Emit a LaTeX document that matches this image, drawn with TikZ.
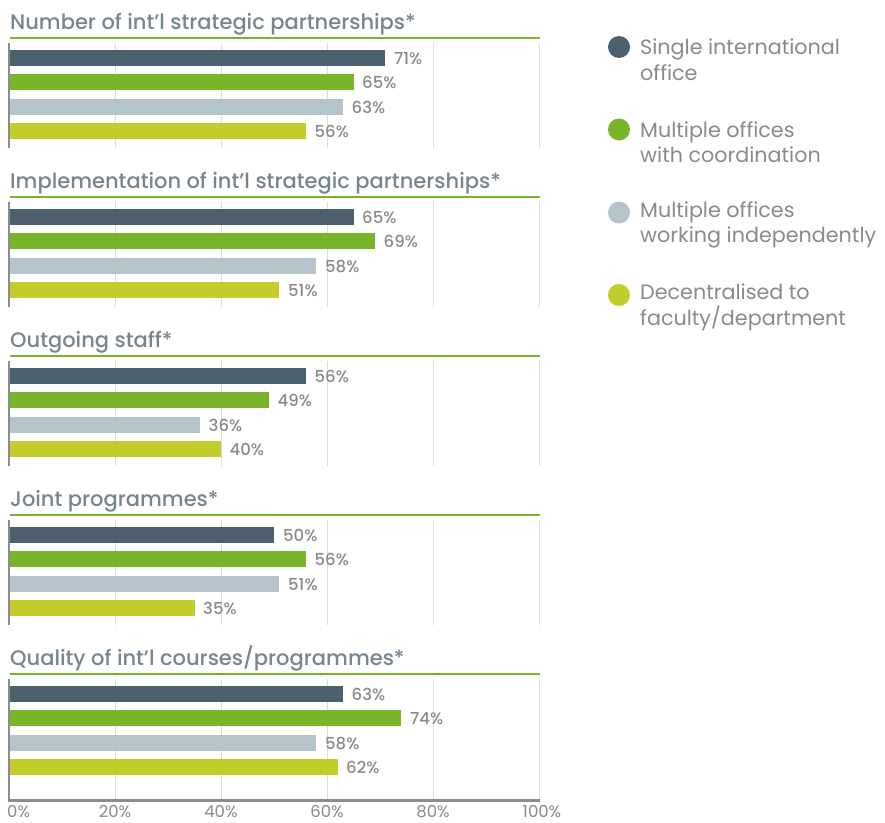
\documentclass[tikz,border=0pt]{standalone}
\usepackage{fontspec}
\setmainfont{Poppins}
\newfontfamily\mediumfont{Poppins}[UprightFont={* Medium}]
\definecolor{slate}{HTML}{4B5F6C}
\definecolor{leaf}{HTML}{78B52A}
\definecolor{mist}{HTML}{B5C4CB}
\definecolor{lime}{HTML}{C2CD2C}
\definecolor{heading}{HTML}{76858F}
\definecolor{label}{HTML}{8A8A8A}
\definecolor{grid}{HTML}{DDDDDD}
\definecolor{axis}{HTML}{8C8C8C}
\begin{document}
\begin{tikzpicture}[x=1pt,y=1pt,yscale=-1,xscale=1,
    title/.style={anchor=base west,inner sep=0,font=\mediumfont\fontsize{21}{24}\selectfont,text=heading},
    value/.style={anchor=west,inner sep=0,font=\mediumfont\fontsize{16.5}{18}\selectfont,text=label},
    tick/.style={anchor=base,inner sep=0,font=\fontsize{16.5}{18}\selectfont,text=label},
    keytext/.style={anchor=west,inner sep=0,align=left,font=\fontsize{20.7}{25.5}\selectfont,text=label},
    dot/.style={circle,inner sep=0,minimum size=22pt},
    rule/.style={leaf,line width=1.3pt},
    gridline/.style={grid,line width=0.9pt},
    axisline/.style={axis,line width=2.6pt}]
    \useasboundingbox (0,0) rectangle (885,822);
    % Panel 1
    \node[title] (t1) at (10,29.5) {Number of int’l strategic partnerships*};
    \draw[rule] (10,38) -- (540,38);
    \draw[gridline] (115,43) -- (115,148) (221,43) -- (221,148) (327,43) -- (327,148) (433,43) -- (433,148) (539,43) -- (539,148);
    \fill[slate] (9,50) rectangle (385.3,66);
    \fill[leaf] (9,74.3) rectangle (353.5,90.3);
    \fill[mist] (9,98.6) rectangle (342.9,114.6);
    \fill[lime] (9,122.9) rectangle (305.8,138.9);
    \node[value] (v11) at (394,58.5) {71\%};
    \node[value] (v12) at (362,82.8) {65\%};
    \node[value] (v13) at (351.5,107.1) {63\%};
    \node[value] (v14) at (314.5,131.4) {56\%};
    \draw[axisline] (9,43) -- (9,148);
    % Panel 2
    \node[title] (t2) at (10,188.5) {Implementation of int’l strategic partnerships*};
    \draw[rule] (10,197) -- (540,197);
    \draw[gridline] (115,202) -- (115,307) (221,202) -- (221,307) (327,202) -- (327,307) (433,202) -- (433,307) (539,202) -- (539,307);
    \fill[slate] (9,209) rectangle (353.5,225);
    \fill[leaf] (9,233.3) rectangle (374.7,249.3);
    \fill[mist] (9,257.6) rectangle (316.4,273.6);
    \fill[lime] (9,281.9) rectangle (279.3,297.9);
    \node[value] (v21) at (362,217.5) {65\%};
    \node[value] (v22) at (383.5,241.8) {69\%};
    \node[value] (v23) at (325,266.1) {58\%};
    \node[value] (v24) at (288,290.4) {51\%};
    \draw[axisline] (9,202) -- (9,307);
    % Panel 3
    \node[title] (t3) at (10,347.5) {Outgoing staff*};
    \draw[rule] (10,356) -- (540,356);
    \draw[gridline] (115,361) -- (115,466) (221,361) -- (221,466) (327,361) -- (327,466) (433,361) -- (433,466) (539,361) -- (539,466);
    \fill[slate] (9,368) rectangle (305.8,384);
    \fill[leaf] (9,392.3) rectangle (268.7,408.3);
    \fill[mist] (9,416.6) rectangle (199.8,432.6);
    \fill[lime] (9,440.9) rectangle (221,456.9);
    \node[value] (v31) at (314.5,376.5) {56\%};
    \node[value] (v32) at (277.5,400.8) {49\%};
    \node[value] (v33) at (208.5,425.1) {36\%};
    \node[value] (v34) at (229.5,449.4) {40\%};
    \draw[axisline] (9,361) -- (9,466);
    % Panel 4
    \node[title] (t4) at (10,506.5) {Joint programmes*};
    \draw[rule] (10,515) -- (540,515);
    \draw[gridline] (115,520) -- (115,625) (221,520) -- (221,625) (327,520) -- (327,625) (433,520) -- (433,625) (539,520) -- (539,625);
    \fill[slate] (9,527) rectangle (274,543);
    \fill[leaf] (9,551.3) rectangle (305.8,567.3);
    \fill[mist] (9,575.6) rectangle (279.3,591.6);
    \fill[lime] (9,599.9) rectangle (194.5,615.9);
    \node[value] (v41) at (283,535.5) {50\%};
    \node[value] (v42) at (314.5,559.8) {56\%};
    \node[value] (v43) at (288,584.1) {51\%};
    \node[value] (v44) at (203,608.4) {35\%};
    \draw[axisline] (9,520) -- (9,625);
    % Panel 5
    \node[title] (t5) at (10,665.5) {Quality of int’l courses/programmes*};
    \draw[rule] (10,674) -- (540,674);
    \draw[gridline] (115,679) -- (115,800) (221,679) -- (221,800) (327,679) -- (327,800) (433,679) -- (433,800) (539,679) -- (539,800);
    \fill[slate] (9,686) rectangle (342.9,702);
    \fill[leaf] (9,710.3) rectangle (401.2,726.3);
    \fill[mist] (9,734.6) rectangle (316.4,750.6);
    \fill[lime] (9,758.9) rectangle (337.6,774.9);
    \node[value] (v51) at (351.5,694.5) {63\%};
    \node[value] (v52) at (410,718.8) {74\%};
    \node[value] (v53) at (325,743.1) {58\%};
    \node[value] (v54) at (346,767.4) {62\%};
    \draw[axisline] (9,679) -- (9,800.3) -- (540,800.3);
    % Axis ticks
    \node[tick,anchor=base west] (x0) at (7,817) {0\%};
    \node[tick] (x20) at (115,817) {20\%};
    \node[tick] (x40) at (221,817) {40\%};
    \node[tick] (x60) at (327,817) {60\%};
    \node[tick] (x80) at (433,817) {80\%};
    \node[tick] (x100) at (542,817) {100\%};
    % Legend
    \node[dot,fill=slate] (d1) at (619,47) {};
    \node[keytext] (k1) at (640,59.5) {Single international\\office};
    \node[dot,fill=leaf] (d2) at (619,129.5) {};
    \node[keytext] (k2) at (640,142) {Multiple offices\\with coordination};
    \node[dot,fill=mist] (d3) at (619,212.5) {};
    \node[keytext] (k3) at (640,225) {Multiple offices\\working independently};
    \node[dot,fill=lime] (d4) at (619,295) {};
    \node[keytext] (k4) at (640,307.5) {Decentralised to\\faculty/department};
\end{tikzpicture}
\end{document}
